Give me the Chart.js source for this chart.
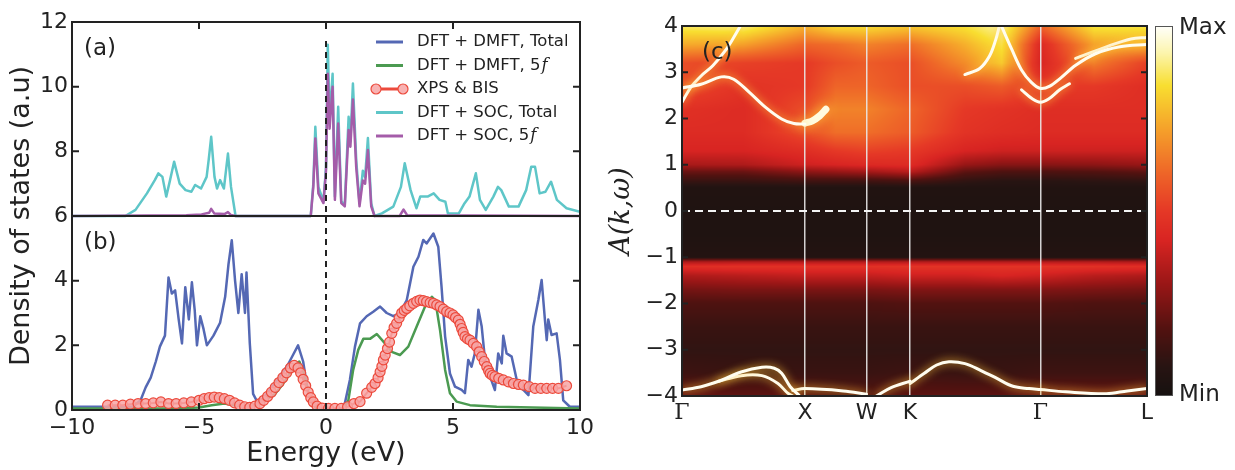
<!DOCTYPE html>
<html>
<head>
<meta charset="utf-8">
<title>DOS and spectral function</title>
<script src="https://cdn.jsdelivr.net/npm/chart.js@4.4.1/dist/chart.umd.min.js"></script>
<style>
  body { margin: 0; background: #fff; }
  #wrap { position: relative; width: 1235px; height: 470px; overflow: hidden; }
  #dosChart { position: absolute; left: 0; top: 0; }
  #bandChart { position: absolute; left: 600px; top: 0; }
</style>
</head>
<body>
<div id="wrap">
  <canvas id="dosChart" width="600" height="470"></canvas>
  <canvas id="bandChart" width="635" height="470"></canvas>
</div>
<script>
// ---------------- DATA : panels (a) + (b) ----------------
const energyTicks = [-10, -5, 0, 5, 10];
const dosTicks = [0, 2, 4, 6, 8, 10, 12];
const panelAOffset = 6;        // panel (a) sits on top of panel (b)
const fermiLineTop = 11.45;

const legendLabels = ["DFT + DMFT, Total", "DFT + DMFT, 5f", "XPS & BIS", "DFT + SOC, Total", "DFT + SOC, 5f"];

// [energy (eV), DOS]
const dmftTotal = [[-10,0.1],[-7.6,0.1],[-7.3,0.3],[-7.1,0.7],[-6.9,1.0],[-6.7,1.5],[-6.54,1.96],[-6.34,2.3],[-6.2,4.1],[-6.07,3.6],[-5.94,3.7],[-5.8,2.8],[-5.67,2.06],[-5.54,3.8],[-5.4,2.8],[-5.28,3.95],[-5.17,3.1],[-5.08,2.0],[-4.95,2.9],[-4.82,2.5],[-4.69,2.0],[-4.43,2.3],[-4.17,2.7],[-3.97,3.5],[-3.84,4.5],[-3.71,5.25],[-3.58,4.0],[-3.45,3.0],[-3.32,4.2],[-3.19,3.0],[-3.13,4.25],[-3.0,2.06],[-2.87,0.5],[-2.67,0.2],[-2.34,0.5],[-1.82,1.03],[-1.5,1.4],[-1.3,1.7],[-1.1,2.0],[-0.9,1.5],[-0.7,0.5],[-0.4,0.05],[0,0.02],[0.7,0.05],[0.94,0.93],[1.14,1.96],[1.34,2.68],[1.6,2.9],[1.86,3.04],[2.13,3.2],[2.39,3.0],[2.65,2.9],[2.91,3.0],[3.18,3.4],[3.44,4.43],[3.64,4.74],[3.83,5.26],[3.96,5.15],[4.23,5.46],[4.42,5.05],[4.55,3.8],[4.69,2.27],[4.88,1.13],[5.08,0.72],[5.34,0.62],[5.47,0.52],[5.6,1.55],[5.73,1.34],[5.86,1.75],[6.0,3.1],[6.13,2.58],[6.26,1.55],[6.46,1.03],[6.65,0.62],[6.78,1.75],[6.92,1.44],[6.98,2.3],[7.11,1.75],[7.31,1.65],[7.51,0.93],[7.77,0.62],[7.97,0.46],[8.16,2.58],[8.36,3.4],[8.49,4.02],[8.62,2.78],[8.69,2.16],[8.75,2.8],[8.88,2.32],[9.08,2.37],[9.21,1.55],[9.34,0.3],[9.6,0.1],[10,0.1]];

const dmft5f = [[-10,0.05],[-6,0.05],[-5,0.08],[-4.5,0.15],[-4.0,0.2],[-3.6,0.15],[-3.2,0.1],[-2.8,0.15],[-2.4,0.3],[-2.0,0.5],[-1.7,0.8],[-1.4,1.15],[-1.2,1.4],[-1.05,1.5],[-0.9,1.2],[-0.75,0.7],[-0.6,0.3],[-0.4,0.08],[-0.2,0.02],[0.7,0.02],[0.88,0.3],[1.07,1.24],[1.27,1.86],[1.47,2.2],[1.73,2.2],[2.0,2.35],[2.32,2.06],[2.59,1.8],[2.91,1.7],[3.24,1.96],[3.57,2.58],[3.9,3.2],[4.17,3.5],[4.3,3.4],[4.49,2.47],[4.69,1.24],[4.88,0.52],[5.14,0.26],[5.67,0.15],[6.72,0.1],[10,0.05]];

const xpsBis = [[-8.6,0.15],[-8.3,0.15],[-8.0,0.15],[-7.7,0.18],[-7.4,0.2],[-7.1,0.2],[-6.8,0.22],[-6.5,0.25],[-6.2,0.2],[-5.9,0.2],[-5.6,0.22],[-5.3,0.25],[-5.0,0.3],[-4.8,0.35],[-4.6,0.38],[-4.4,0.4],[-4.2,0.38],[-4.0,0.35],[-3.8,0.3],[-3.6,0.22],[-3.4,0.15],[-3.2,0.1],[-3.0,0.08],[-2.8,0.12],[-2.6,0.2],[-2.45,0.3],[-2.3,0.42],[-2.15,0.55],[-2.0,0.7],[-1.85,0.85],[-1.7,1.0],[-1.55,1.15],[-1.4,1.3],[-1.25,1.38],[-1.1,1.3],[-1.0,1.15],[-0.9,0.95],[-0.8,0.75],[-0.7,0.55],[-0.6,0.38],[-0.5,0.25],[-0.35,0.12],[-0.15,0.06],[0.1,0.05],[0.35,0.05],[0.6,0.05],[0.85,0.1],[1.1,0.2],[1.34,0.26],[1.6,0.52],[1.8,0.7],[1.93,0.82],[2.05,1.0],[2.13,1.18],[2.2,1.35],[2.26,1.55],[2.33,1.7],[2.42,1.9],[2.5,2.1],[2.59,2.37],[2.68,2.55],[2.78,2.68],[2.88,2.85],[2.98,3.0],[3.08,3.08],[3.18,3.14],[3.3,3.22],[3.44,3.3],[3.57,3.36],[3.7,3.4],[3.83,3.38],[3.96,3.35],[4.1,3.32],[4.23,3.3],[4.36,3.25],[4.49,3.2],[4.62,3.12],[4.75,3.04],[4.88,3.0],[5.0,2.94],[5.1,2.86],[5.21,2.78],[5.28,2.65],[5.34,2.52],[5.4,2.4],[5.47,2.27],[5.57,2.2],[5.67,2.16],[5.8,2.06],[5.93,1.96],[6.03,1.8],[6.13,1.65],[6.23,1.5],[6.33,1.34],[6.4,1.22],[6.46,1.13],[6.55,1.07],[6.65,1.03],[6.8,0.98],[6.98,0.93],[7.18,0.87],[7.38,0.82],[7.58,0.79],[7.77,0.77],[8.0,0.72],[8.23,0.67],[8.46,0.67],[8.69,0.67],[8.92,0.67],[9.15,0.67],[9.47,0.75]];

const socTotal = [[-10,0],[-7.9,0],[-7.5,0.19],[-7.05,0.7],[-6.74,1.11],[-6.6,1.32],[-6.44,1.21],[-6.29,0.6],[-6.14,1.11],[-5.98,1.68],[-5.76,1.0],[-5.53,0.8],[-5.3,0.75],[-5.15,0.96],[-4.92,0.85],[-4.7,1.21],[-4.62,1.73],[-4.52,2.45],[-4.39,1.21],[-4.29,0.85],[-4.17,1.11],[-4.02,0.85],[-3.86,1.93],[-3.74,0.9],[-3.56,0],[-0.6,0],[-0.5,1.0],[-0.42,2.76],[-0.3,0.9],[-0.1,0.45],[0.0,1.5],[0.07,5.3],[0.14,3.0],[0.26,4.4],[0.35,0.6],[0.48,3.38],[0.6,0.45],[0.74,0.35],[0.89,3.07],[0.96,2.3],[1.06,4.1],[1.19,1.73],[1.32,0.39],[1.45,1.4],[1.54,1.2],[1.65,2.41],[1.78,0.39],[1.91,0],[2.2,0.08],[2.65,0.29],[2.95,0.9],[3.1,1.63],[3.33,0.8],[3.56,0.24],[3.71,0.6],[4.0,0.6],[4.24,0.7],[4.47,0.5],[4.7,0.44],[4.8,0.08],[5.23,0.08],[5.45,0.39],[5.65,0.6],[5.9,1.32],[6.06,0.5],[6.29,0.19],[6.59,0.6],[6.77,0.9],[6.9,0.8],[7.2,0.29],[7.58,0.29],[7.88,0.8],[8.08,1.52],[8.23,1.52],[8.41,0.7],[8.64,0.75],[8.86,1.06],[9.09,0.5],[9.47,0.24],[10,0.13]];

const soc5f = [[-10,0],[-5.5,0.02],[-4.9,0.05],[-4.6,0.1],[-4.52,0.22],[-4.4,0.08],[-4.0,0.06],[-3.86,0.12],[-3.74,0.03],[-3.56,0],[-0.6,0],[-0.5,0.9],[-0.42,2.4],[-0.3,0.7],[-0.1,0.4],[0.0,1.4],[0.07,4.4],[0.14,2.7],[0.26,4.0],[0.35,0.5],[0.48,2.86],[0.6,0.4],[0.74,0.3],[0.89,2.66],[0.96,2.14],[1.06,3.6],[1.19,1.5],[1.32,0.3],[1.45,1.1],[1.54,1.0],[1.65,2.04],[1.78,0.3],[1.91,0],[2.9,0],[3.05,0.2],[3.2,0.02],[10,0]];

// ---------------- DATA : panel (c) ----------------
const kTicks = [0, 1, 1.5, 1.854, 2.914, 3.78];
const kLabels = ["Γ", "X", "W", "K", "Γ", "L"];
const omegaTicks = [-4, -3, -2, -1, 0, 1, 2, 3, 4];

// background intensity (0 = Min, 1 = Max), rows follow heatE, columns follow heatK
const heatK = [0, 0.5, 1.0, 1.25, 1.5, 1.854, 2.3, 2.6, 2.914, 3.35, 3.78];
const heatE = [-4, -3.5, -3, -2.5, -2, -1.7, -1.4, -1.2, -1.1, -1.0, -0.5, 0, 0.5, 0.65, 0.85, 1.0, 1.3, 1.7, 2.2, 2.7, 3.2, 3.6, 4.0];
const heatRows = [
  [0.22,0.2,0.2,0.18,0.18,0.2,0.2,0.2,0.22,0.22,0.22],
  [0.13,0.12,0.12,0.12,0.12,0.13,0.12,0.12,0.13,0.13,0.13],
  [0.1,0.1,0.1,0.1,0.1,0.1,0.1,0.1,0.1,0.1,0.1],
  [0.12,0.12,0.12,0.12,0.12,0.12,0.12,0.12,0.12,0.12,0.12],
  [0.17,0.17,0.17,0.17,0.17,0.18,0.18,0.18,0.18,0.17,0.17],
  [0.24,0.25,0.25,0.25,0.25,0.26,0.26,0.26,0.26,0.25,0.24],
  [0.34,0.36,0.38,0.38,0.38,0.4,0.4,0.42,0.4,0.36,0.34],
  [0.46,0.47,0.47,0.47,0.47,0.48,0.48,0.48,0.48,0.47,0.46],
  [0.34,0.35,0.35,0.35,0.35,0.35,0.35,0.35,0.35,0.35,0.34],
  [0.06,0.06,0.06,0.06,0.06,0.06,0.06,0.06,0.06,0.06,0.06],
  [0.04,0.04,0.04,0.04,0.04,0.04,0.04,0.04,0.04,0.04,0.04],
  [0.04,0.04,0.04,0.04,0.04,0.04,0.04,0.04,0.04,0.04,0.04],
  [0.05,0.05,0.05,0.05,0.05,0.05,0.05,0.05,0.05,0.05,0.05],
  [0.12,0.12,0.14,0.14,0.14,0.16,0.1,0.08,0.08,0.09,0.1],
  [0.22,0.22,0.28,0.3,0.32,0.36,0.2,0.17,0.17,0.18,0.2],
  [0.33,0.34,0.4,0.42,0.44,0.45,0.3,0.27,0.27,0.28,0.3],
  [0.42,0.42,0.46,0.5,0.52,0.5,0.42,0.4,0.4,0.4,0.4],
  [0.45,0.45,0.55,0.62,0.62,0.58,0.48,0.46,0.45,0.45,0.45],
  [0.47,0.45,0.55,0.66,0.66,0.6,0.5,0.48,0.46,0.46,0.46],
  [0.55,0.48,0.5,0.6,0.6,0.55,0.55,0.58,0.5,0.5,0.46],
  [0.55,0.52,0.5,0.55,0.58,0.55,0.68,0.8,0.42,0.65,0.52],
  [0.74,0.72,0.6,0.62,0.66,0.62,0.75,0.86,0.44,0.72,0.75],
  [0.88,0.9,0.76,0.84,0.84,0.8,0.85,0.93,0.6,0.86,0.86]
];

// bright quasiparticle bands [k, energy]
const bandGX = [[0,2.66],[0.155,2.74],[0.32,2.9],[0.42,2.85],[0.55,2.56],[0.68,2.24],[0.81,1.99],[0.91,1.89],[1.0,1.88]];
const bandGUp = [[0,2.35],[0.07,2.67],[0.155,2.92],[0.25,3.14],[0.35,3.46],[0.42,3.75],[0.47,3.98]];
const bandXBlob = [[1.0,1.9],[1.06,1.95],[1.12,2.06],[1.17,2.2]];
const bandPocket = [[2.6,3.98],[2.68,3.5],[2.76,3.05],[2.84,2.78],[2.914,2.65],[2.99,2.7],[3.08,2.88],[3.2,3.15],[3.36,3.4],[3.56,3.55],[3.78,3.6]];
const bandPocketInner = [[2.76,2.62],[2.85,2.42],[2.914,2.35],[2.98,2.42],[3.07,2.62],[3.15,2.75]];
const bandWedge = [[2.3,2.95],[2.42,3.08],[2.5,3.35],[2.55,3.7],[2.58,4.0]];
const bandLTop = [[3.2,3.3],[3.45,3.55],[3.65,3.72],[3.78,3.75]];
const bandLow1 = [[0,-3.87],[0.155,-3.8],[0.32,-3.66],[0.48,-3.48],[0.65,-3.38],[0.75,-3.4],[0.81,-3.51],[0.88,-3.8],[0.95,-3.98]];
const bandLow2 = [[0.3,-3.68],[0.48,-3.56],[0.65,-3.56],[0.78,-3.73],[0.86,-3.94],[0.9,-4.0]];
const bandLowXW = [[0.9,-3.88],[1.0,-3.84],[1.31,-3.89],[1.5,-3.96]];
const bandLowWK = [[1.58,-4.0],[1.7,-3.82],[1.854,-3.68]];
const bandLowKG = [[1.854,-3.73],[1.97,-3.51],[2.07,-3.33],[2.17,-3.26],[2.3,-3.3],[2.43,-3.45],[2.56,-3.62],[2.69,-3.79],[2.82,-3.84],[2.914,-3.86]];
const bandLowGL = [[2.914,-3.86],[3.12,-3.91],[3.45,-3.95],[3.62,-3.89],[3.78,-3.84]];

const thinBands = [bandGX, bandGUp, bandPocket, bandPocketInner, bandWedge, bandLTop, bandLow1, bandLow2, bandLowXW, bandLowWK, bandLowKG, bandLowGL];
const thickBands = [bandXBlob];

// ---------------- HELPERS ----------------
const FONT = "DejaVu Sans";
const INK = "#222";
const minus = v => (v < 0 ? "\u2212" + Math.abs(v) : String(v));
const toPts = (arr, off = 0) => arr.map(([x, y]) => ({ x: x, y: y + off }));

// afmhot-like map used by the heat map and colour bar
const cmapStops = [
  [0.00, [22, 17, 16]], [0.08, [40, 20, 18]], [0.18, [82, 18, 16]], [0.30, [152, 22, 22]],
  [0.42, [216, 36, 34]], [0.50, [229, 56, 38]], [0.60, [238, 100, 40]], [0.72, [245, 160, 42]],
  [0.84, [248, 222, 48]], [0.93, [252, 245, 175]], [1.00, [255, 255, 250]]
];
function cmap(t) {
  t = Math.max(0, Math.min(1, t));
  for (let i = 0; i < cmapStops.length - 1; i++) {
    const [t0, c0] = cmapStops[i], [t1, c1] = cmapStops[i + 1];
    if (t <= t1) {
      const f = (t - t0) / (t1 - t0);
      return c0.map((c, j) => Math.round(c + (c1[j] - c) * f));
    }
  }
  return cmapStops[cmapStops.length - 1][1];
}
function locate(nodes, v) {
  let i = 0;
  while (i < nodes.length - 2 && v > nodes[i + 1]) i++;
  const f = (v - nodes[i]) / (nodes[i + 1] - nodes[i]);
  return [i, Math.max(0, Math.min(1, f))];
}

// ---------------- PLUGINS (left) ----------------
const dosFrame = {
  id: "dosFrame",
  afterDraw(chart) {
    const { ctx, chartArea: a, scales: { x, y } } = chart;
    ctx.save();
    ctx.strokeStyle = INK;
    ctx.lineWidth = 2;
    ctx.strokeRect(a.left, a.top, a.right - a.left, a.bottom - a.top);
    const ySplit = y.getPixelForValue(panelAOffset);
    ctx.beginPath();
    ctx.moveTo(a.left, ySplit); ctx.lineTo(a.right, ySplit);
    energyTicks.forEach(v => {
      const px = x.getPixelForValue(v);
      ctx.moveTo(px, a.bottom); ctx.lineTo(px, a.bottom - 7);
      ctx.moveTo(px, a.top); ctx.lineTo(px, a.top + 7);
    });
    dosTicks.forEach(v => {
      const py = y.getPixelForValue(v);
      ctx.moveTo(a.left, py); ctx.lineTo(a.left + 7, py);
      ctx.moveTo(a.right, py); ctx.lineTo(a.right - 7, py);
    });
    ctx.stroke();

    // panel labels
    ctx.fillStyle = INK;
    ctx.font = "23px " + FONT;
    ctx.textBaseline = "middle";
    ctx.fillText("(a)", a.left + 12, a.top + 27);
    ctx.fillText("(b)", a.left + 12, ySplit + 27);

    // legend
    const cols = chart.data.datasets;
    const x0 = a.right - 204, x1 = x0 + 27, tx = x0 + 41;
    legendLabels.forEach((lab, i) => {
      const ly = a.top + 20 + i * 23.5;
      const ds = cols.find(d => d.label === lab);
      ctx.strokeStyle = ds.borderColor;
      ctx.lineWidth = 3;
      ctx.beginPath(); ctx.moveTo(x0, ly); ctx.lineTo(x1, ly); ctx.stroke();
      if (ds.pointRadius > 0) {
        [x0, x1].forEach(cx => {
          ctx.beginPath(); ctx.arc(cx, ly, 5, 0, Math.PI * 2);
          ctx.fillStyle = "#fff"; ctx.fill();
          ctx.fillStyle = ds.pointBackgroundColor; ctx.fill();
          ctx.lineWidth = 1.2; ctx.strokeStyle = ds.pointBorderColor; ctx.stroke();
        });
      }
      ctx.fillStyle = INK;
      ctx.textBaseline = "middle";
      if (lab.endsWith("5f")) {
        const base = lab.slice(0, -1);
        ctx.font = "16.5px " + FONT;
        ctx.fillText(base, tx, ly);
        const w = ctx.measureText(base).width;
        ctx.font = "italic 16.5px DejaVu Serif";
        ctx.fillText("f", tx + w + 1, ly);
      } else {
        ctx.font = "16.5px " + FONT;
        ctx.fillText(lab, tx, ly);
      }
    });
    ctx.restore();
  }
};

// ---------------- LEFT CHART ----------------
new Chart(document.getElementById("dosChart"), {
  type: "line",
  data: {
    datasets: [
      { label: "fermi", data: [{ x: 0, y: 0 }, { x: 0, y: fermiLineTop }], borderColor: INK, borderWidth: 2, borderDash: [6, 5], pointRadius: 0 },
      { label: legendLabels[2], data: toPts(xpsBis), borderColor: "#ec4a3c", borderWidth: 2, pointRadius: 5,
        pointBackgroundColor: "rgba(247,165,165,0.85)", pointBorderColor: "#ec4a3c", pointBorderWidth: 1.2 },
      { label: legendLabels[1], data: toPts(dmft5f), borderColor: "#4b9a51", borderWidth: 2.5, pointRadius: 0 },
      { label: legendLabels[0], data: toPts(dmftTotal), borderColor: "#5468b4", borderWidth: 2.5, pointRadius: 0 },
      { label: legendLabels[4], data: toPts(soc5f, panelAOffset), borderColor: "#a45ca9", borderWidth: 2.5, pointRadius: 0 },
      { label: legendLabels[3], data: toPts(socTotal, panelAOffset), borderColor: "#5ec6c8", borderWidth: 2.5, pointRadius: 0 }
    ]
  },
  options: {
    responsive: false,
    animation: false,
    layout: { padding: { top: 22, right: 20, left: 0, bottom: 0 } },
    elements: { line: { tension: 0, borderJoinStyle: "round" } },
    plugins: { legend: { display: false }, tooltip: { enabled: false } },
    scales: {
      x: {
        type: "linear", min: -10, max: 10,
        afterBuildTicks: s => { s.ticks = energyTicks.map(v => ({ value: v })); },
        afterFit: s => { s.height = 60; },
        ticks: { callback: v => minus(v), color: INK, padding: 5, maxRotation: 0, font: { family: FONT, size: 22 } },
        grid: { display: false, drawTicks: false },
        border: { display: false },
        title: { display: true, text: "Energy (eV)", color: INK, font: { family: FONT, size: 27 }, padding: { top: 0, bottom: 0 } }
      },
      y: {
        type: "linear", min: 0, max: 12,
        afterBuildTicks: s => { s.ticks = dosTicks.map(v => ({ value: v })); },
        afterFit: s => { s.width = 72; },
        ticks: { color: INK, padding: 4, font: { family: FONT, size: 22 } },
        grid: { display: false, drawTicks: false },
        border: { display: false },
        title: { display: true, text: "Density of states (a.u)", color: INK, font: { family: FONT, size: 27 }, padding: { top: 6, bottom: 0 } }
      }
    }
  },
  plugins: [dosFrame]
});

// ---------------- PLUGINS (right) ----------------
const heatmap = {
  id: "heatmap",
  beforeDraw(chart) {
    const { ctx, chartArea: a, scales: { x, y } } = chart;
    const w = Math.round(a.right - a.left), h = Math.round(a.bottom - a.top);
    const off = document.createElement("canvas");
    off.width = w; off.height = h;
    const octx = off.getContext("2d");
    const img = octx.createImageData(w, h);
    const kCols = [], eRows = [];
    for (let i = 0; i < w; i++) kCols.push(locate(heatK, x.getValueForPixel(a.left + i + 0.5)));
    for (let j = 0; j < h; j++) eRows.push(locate(heatE, y.getValueForPixel(a.top + j + 0.5)));
    for (let j = 0; j < h; j++) {
      const [r, fr] = eRows[j];
      const lo = heatRows[r], hi = heatRows[r + 1];
      for (let i = 0; i < w; i++) {
        const [c, fc] = kCols[i];
        const v0 = lo[c] + (lo[c + 1] - lo[c]) * fc;
        const v1 = hi[c] + (hi[c + 1] - hi[c]) * fc;
        const col = cmap(v0 + (v1 - v0) * fr);
        const p = (j * w + i) * 4;
        img.data[p] = col[0]; img.data[p + 1] = col[1]; img.data[p + 2] = col[2]; img.data[p + 3] = 255;
      }
    }
    octx.putImageData(img, 0, 0);
    ctx.drawImage(off, a.left, a.top);
  },
  afterDraw(chart) {
    const { ctx, chartArea: a, scales: { y } } = chart;
    ctx.save();
    // frame and inward ticks
    ctx.strokeStyle = INK;
    ctx.lineWidth = 2;
    ctx.strokeRect(a.left, a.top, a.right - a.left, a.bottom - a.top);
    ctx.beginPath();
    omegaTicks.forEach(v => {
      const py = y.getPixelForValue(v);
      ctx.moveTo(a.left, py); ctx.lineTo(a.left + 6, py);
      ctx.moveTo(a.right, py); ctx.lineTo(a.right - 6, py);
    });
    ctx.stroke();
    // panel label
    ctx.fillStyle = INK;
    ctx.font = "23px " + FONT;
    ctx.textBaseline = "middle";
    ctx.fillText("(c)", a.left + 20, a.top + 27);
    // colour bar
    const bx = a.right + 8, bw = 18, bh = a.bottom - a.top;
    for (let j = 0; j < bh; j++) {
      const c = cmap(1 - j / (bh - 1));
      ctx.fillStyle = `rgb(${c[0]},${c[1]},${c[2]})`;
      ctx.fillRect(bx, a.top + j, bw, 1);
    }
    ctx.strokeStyle = "#555";
    ctx.lineWidth = 1;
    ctx.strokeRect(bx + 0.5, a.top + 0.5, bw - 1, bh - 1);
    ctx.fillStyle = INK;
    ctx.font = "23px " + FONT;
    ctx.textAlign = "left";
    ctx.fillText("Max", bx + bw + 6, a.top + 2);
    ctx.fillText("Min", bx + bw + 6, a.bottom - 1);
    ctx.restore();
  }
};

const glow = {
  id: "glow",
  beforeDatasetDraw(chart, args) {
    const ds = chart.data.datasets[args.index];
    if (!ds.glow) return;
    chart.ctx.save();
    chart.ctx.shadowColor = "rgba(255,200,60,1)";
    chart.ctx.shadowBlur = ds.glow;
  },
  afterDatasetDraw(chart, args) {
    if (chart.data.datasets[args.index].glow) chart.ctx.restore();
  }
};

// ---------------- RIGHT CHART ----------------
const bandSets = [
  { label: "fermi", data: [{ x: 0, y: 0 }, { x: 3.78, y: 0 }], borderColor: "#f4f4f4", borderWidth: 2, borderDash: [8, 5], pointRadius: 0 }
];
thinBands.forEach(b => bandSets.push({ data: toPts(b), borderColor: "#fffdf0", borderWidth: 3, pointRadius: 0, tension: 0.35, borderCapStyle: "round", glow: 9 }));
thickBands.forEach(b => bandSets.push({ data: toPts(b), borderColor: "#fffbe0", borderWidth: 7, pointRadius: 0, tension: 0.35, borderCapStyle: "round", glow: 12 }));

new Chart(document.getElementById("bandChart"), {
  type: "line",
  data: { datasets: bandSets },
  options: {
    responsive: false,
    animation: false,
    layout: { padding: { top: 26, right: 88, left: 0, bottom: 0 } },
    plugins: { legend: { display: false }, tooltip: { enabled: false } },
    scales: {
      x: {
        type: "linear", min: 0, max: 3.78,
        afterBuildTicks: s => { s.ticks = kTicks.map(v => ({ value: v })); },
        afterFit: s => { s.height = 74; },
        ticks: {
          autoSkip: false, maxRotation: 0, padding: 4, color: INK,
          callback: (v, i) => kLabels[i],
          font: ctx => ({ family: kLabels[ctx.index] === "Γ" ? "DejaVu Serif" : FONT, size: 22 })
        },
        grid: {
          drawTicks: false,
          lineWidth: 1.5,
          color: ctx => (ctx.index === 0 || ctx.index === kTicks.length - 1) ? "rgba(0,0,0,0)" : "rgba(232,232,232,0.9)"
        },
        border: { display: false }
      },
      y: {
        type: "linear", min: -4, max: 4,
        afterBuildTicks: s => { s.ticks = omegaTicks.map(v => ({ value: v })); },
        afterFit: s => { s.width = 82; },
        ticks: { callback: v => minus(v), color: INK, padding: 4, font: { family: FONT, size: 22 } },
        grid: { display: false, drawTicks: false },
        border: { display: false },
        title: { display: true, text: "A(k,ω)", color: INK, font: { family: "DejaVu Serif", style: "italic", size: 27 }, padding: { top: 6, bottom: 0 } }
      }
    }
  },
  plugins: [heatmap, glow]
});
</script>
</body>
</html>
